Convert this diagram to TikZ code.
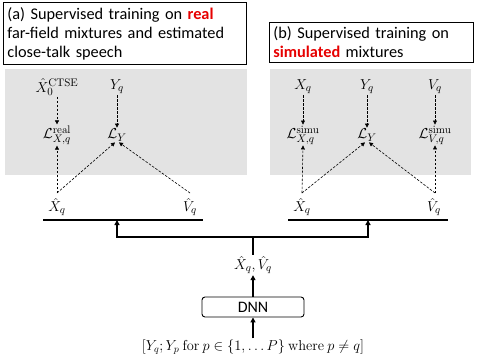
\documentclass[tikz,border=0pt]{standalone}
\usepackage[no-math]{fontspec}
\setmainfont{Carlito}
\usetikzlibrary{arrows.meta}
\definecolor{panelgray}{RGB}{227,227,227}
\definecolor{hlred}{RGB}{230,0,0}
\begin{document}
\begin{tikzpicture}[x=1pt,y=-1pt,
  titlebox/.style={draw,line width=0.9pt,anchor=north west,inner xsep=4pt,inner ysep=2pt,align=left,font=\fontsize{16.3}{19}\selectfont},
  mlabel/.style={inner sep=1pt,font=\fontsize{15}{17}\selectfont},
  dasharrow/.style={dashed,line width=0.6pt,dash pattern=on 2.5pt off 1.5pt,-{Triangle[length=4pt,width=4pt]}},
  thickline/.style={line width=1.8pt},
  thickarrow/.style={line width=1.8pt,-{Triangle[length=5pt,width=5pt]}},
  dnnbox/.style={draw,line width=0.9pt,rounded corners=3pt,minimum width=102pt,minimum height=20pt,inner sep=0pt,font=\fontsize{16}{18}\selectfont}
]
\useasboundingbox (0,0) rectangle (477,360);
% gray panels
\fill[panelgray] (5,69) rectangle (247,175);
\fill[panelgray] (270,69) rectangle (471,175);
% title boxes
\node[titlebox,minimum width=243pt,minimum height=62pt,text width=235pt] (ta) at (3,2)
  {(a) Supervised training on \textcolor{hlred}{\textbf{real}}\\far-field mixtures and estimated\\close-talk speech};
\node[titlebox,minimum width=204pt,minimum height=40pt,text width=196pt] (tb) at (269,22)
  {(b) Supervised training on\\\textcolor{hlred}{\textbf{simulated}} mixtures};
% panel (a)
\node[mlabel] (x0a) at (57,87) {$\hat{X}_0^{\mathrm{CTSE}}$};
\node[mlabel] (ya) at (117,87) {$Y_q$};
\node[mlabel] (lxa) at (57,135) {$\mathcal{L}_{X,q}^{\mathrm{real}}$};
\node[mlabel] (lya) at (117,135) {$\mathcal{L}_Y$};
\node[mlabel] (xha) at (57,207) {$\hat{X}_q$};
\node[mlabel] (vha) at (190,207) {$\hat{V}_q$};
\coordinate (xta) at (57,193);
\coordinate (vta) at (190,193);
\draw[dasharrow] (x0a.south) -- (lxa.north);
\draw[dasharrow] (ya.south) -- (lya.north);
\draw[dasharrow] (xta) -- (lxa.south);
\draw[dasharrow] (xta) -- ([xshift=-2pt]lya.south);
\draw[dasharrow] (vta) -- ([xshift=2pt]lya.south);
% panel (b)
\node[mlabel] (xb) at (303,87) {$X_q$};
\node[mlabel] (yb) at (367,87) {$Y_q$};
\node[mlabel] (vb) at (435,87) {$V_q$};
\node[mlabel] (lxb) at (303,135) {$\mathcal{L}_{X,q}^{\mathrm{simu}}$};
\node[mlabel] (lyb) at (367,135) {$\mathcal{L}_Y$};
\node[mlabel] (lvb) at (435,135) {$\mathcal{L}_{V,q}^{\mathrm{simu}}$};
\node[mlabel] (xhb) at (302,207) {$\hat{X}_q$};
\node[mlabel] (vhb) at (434,207) {$\hat{V}_q$};
\coordinate (xtb) at (302,193);
\coordinate (vtb) at (435,193);
\draw[dasharrow] (xb.south) -- (lxb.north);
\draw[dasharrow] (yb.south) -- (lyb.north);
\draw[dasharrow] (vb.south) -- (lvb.north);
\draw[dasharrow] (xtb) -- (lxb.south);
\draw[dasharrow] (xtb) -- ([xshift=-2pt]lyb.south);
\draw[dasharrow] (vtb) -- ([xshift=2pt]lyb.south);
\draw[dasharrow] (vtb) -- (lvb.south);
% bars
\coordinate (bal) at (43,220);
\coordinate (bar) at (203,220);
\coordinate (bbl) at (288,220);
\coordinate (bbr) at (448,220);
\draw[thickline] (bal) -- (bar);
\draw[thickline] (bbl) -- (bbr);
\coordinate (ba) at (117,220);
\coordinate (bb) at (368,220);
\coordinate (ja) at (117,237);
\coordinate (jb) at (368,237);
\coordinate (jm) at (253,237);
\draw[thickarrow] (jm) -- (ja) -- (ba);
\draw[thickarrow] (jm) -- (jb) -- (bb);
% lower stack
\node[mlabel] (out) at (253,265) {$\hat{X}_q,\hat{V}_q$};
\draw[thickline] (out.north) -- (jm);
\node[dnnbox] (dnn) at (253,307) {DNN};
\draw[thickarrow] (dnn.north) -- (out.south);
\node[mlabel,font=\fontsize{14}{16}\selectfont] (inp) at (253,347) {$\left[Y_q;Y_p\ \mathrm{for}\ p\in\{1,\ldots P\}\ \mathrm{where}\ p\neq q\right]$};
\draw[thickarrow] (inp.north) -- (dnn.south);
\end{tikzpicture}
\end{document}
